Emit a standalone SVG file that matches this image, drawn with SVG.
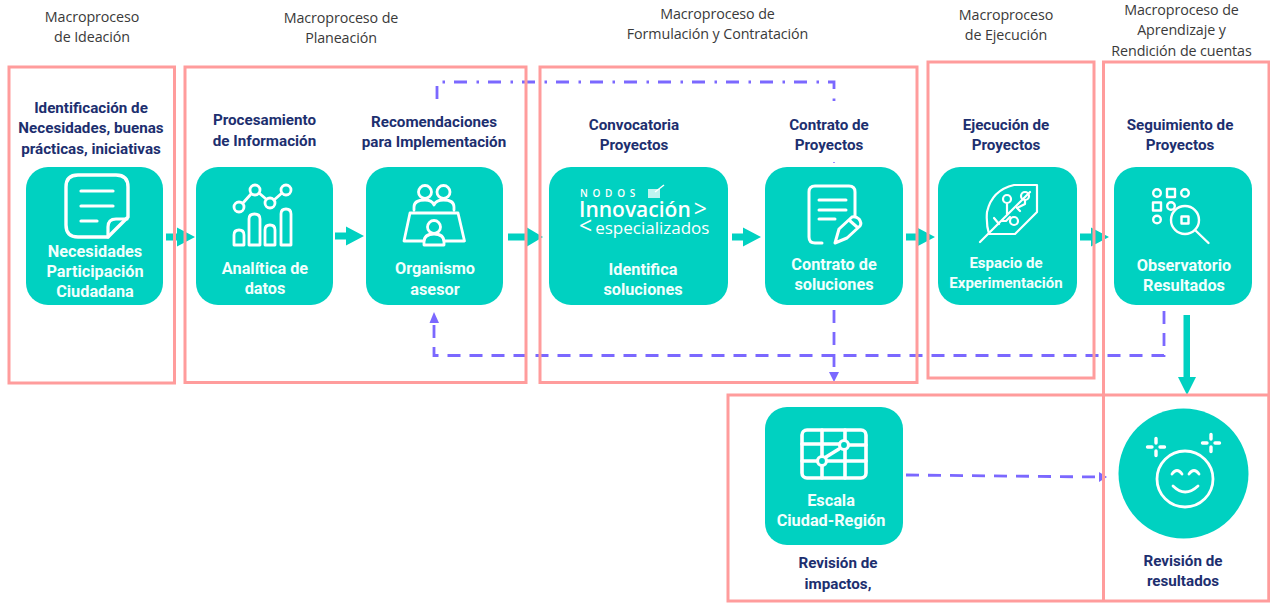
<svg xmlns="http://www.w3.org/2000/svg" width="1270" height="603" viewBox="0 0 1270 603">
<style>
.frame{fill:none;stroke:#ff9c9c;stroke-width:3}
.card{fill:#00d1c1}
.h{font-family:"Open Sans","Noto Sans",sans-serif;font-size:14.300px;letter-spacing:-.1px;fill:#3a3a3a;text-anchor:middle}
.t{font-family:Roboto,"Liberation Sans",sans-serif;font-size:15.200px;font-weight:700;fill:#1d2f6f;text-anchor:middle}
.w{font-family:Roboto,"Liberation Sans",sans-serif;font-size:16.300px;font-weight:700;fill:#f2fffd;text-anchor:middle}
.i{fill:none;stroke:#fff;stroke-width:2.800;stroke-linecap:round;stroke-linejoin:round}
.flow{fill:#00d1c1}
.dash{fill:none;stroke:#7b68ff;stroke-width:2.800;stroke-dasharray:13 9}
.dd{fill:none;stroke:#7b68ff;stroke-width:2.800;stroke-dasharray:13 9.500 2.500 9}
.logo{font-family:"Open Sans","Noto Sans",sans-serif;fill:#fff}
</style>
<defs>
<path id="fa" d="M0-3.500H11V-9.500L29 0 11 9.500V3.500H0Z"/>
</defs>
<rect width="1270" height="603" fill="#fff"/>
<g id="headers">
<text class="h" x="92" y="22">Macroproceso</text><text class="h" x="92" y="42">de Ideación</text>
<text class="h" x="341" y="23">Macroproceso de</text><text class="h" x="341" y="43">Planeación</text>
<text class="h" x="717.500" y="18.500">Macroproceso de</text><text class="h" x="717.500" y="38.500">Formulación y Contratación</text>
<text class="h" x="1006" y="20">Macroproceso</text><text class="h" x="1006" y="40">de Ejecución</text>
<text class="h" x="1181.500" y="15">Macroproceso de</text><text class="h" x="1181.500" y="35">Aprendizaje y</text><text class="h" x="1181.500" y="56">Rendición de cuentas</text>
</g>
<g id="connectors">
<use href="#fa" class="flow" x="166" y="237"/>
<use href="#fa" class="flow" x="335" y="236"/>
<path class="flow" d="M508 233.500H527V227.500L543 237 527 246.500V240.500H508Z"/>
<use href="#fa" class="flow" x="732" y="237"/>
<use href="#fa" class="flow" x="906" y="237"/>
<use href="#fa" class="flow" x="1080" y="237"/>
<path d="M1183.500 315H1190V377H1196L1187 395 1178 377H1183.500Z" class="flow"/>
<path class="dd" d="M437 99V82H834V101"/>
<path fill="none" stroke="#7b68ff" stroke-width="1.500" d="M834 162V163"/>
<path class="dash" d="M834 310V372"/>
<path d="M829 372H839L834 382Z" fill="#7b68ff"/>
<path class="dash" d="M1164 311V355.500H434V323"/>
<path d="M429.500 323H439L434 312Z" fill="#7b68ff"/>
<path class="dash" d="M906 475L1099 477"/>
<path d="M1099 472V482L1107 477Z" fill="#7b68ff"/>
</g>
<g id="frames">
<rect class="frame" x="9" y="67" width="165.500" height="316"/>
<rect class="frame" x="185" y="67" width="341" height="315.500"/>
<rect class="frame" x="540" y="67" width="377" height="315.500"/>
<rect class="frame" x="928" y="62" width="166" height="316"/>
<path class="frame" d="M1103.500 602V62H1269V602"/>
<rect class="frame" x="728" y="395" width="541" height="206"/>
</g>
<g id="node-necesidades">
<text class="t" x="91" y="113">Identificación de</text><text class="t" x="91" y="133">Necesidades, buenas</text><text class="t" x="91" y="154">prácticas, iniciativas</text>
<rect class="card" x="26" y="167" width="137" height="138" rx="22"/>
<path class="i" style="stroke-width:3.400" d="M108 237H78Q66 237 66 225V187Q66 175 78 175H116Q128 175 128 187V217L108 237"/>
<path class="i" style="stroke-width:3.200" d="M108 237V227Q108 219 116 219H127M81 191H113M81 206H113M81 221H97"/>
<text class="w" x="95" y="257">Necesidades</text><text class="w" x="95" y="277">Participación</text><text class="w" x="95" y="297">Ciudadana</text>
</g>
<g id="node-analitica">
<text class="t" x="264.500" y="125">Procesamiento</text><text class="t" x="264.500" y="146">de Información</text>
<rect class="card" x="196" y="167" width="137" height="138" rx="22"/>
<circle class="i" cx="239" cy="207" r="5"/><circle class="i" cx="255" cy="190" r="5"/><circle class="i" cx="270" cy="203" r="5"/><circle class="i" cx="286" cy="190" r="5"/>
<path class="i" d="M243 203L251 194M259 193L266 199M274 200L282 193M234 245V235Q234 230 239 230 244 230 244 235V245ZM249 245V219Q249 214 254.500 214 260 214 260 219V245ZM265 245V230Q265 225 270 225 275 225 275 230V245ZM281 245V214Q281 209 286 209 291 209 291 214V245Z"/>
<text class="w" x="265" y="274">Analítica de</text><text class="w" x="265" y="294">datos</text>
</g>
<g id="node-organismo">
<text class="t" x="434" y="127">Recomendaciones</text><text class="t" x="434" y="147">para Implementación</text>
<rect class="card" x="366" y="167" width="137" height="138" rx="22"/>
<circle class="i" cx="425" cy="192" r="6.500"/><circle class="i" cx="443.500" cy="192" r="6.500"/><circle class="i" cx="434" cy="227" r="6.500"/>
<path class="i" d="M414 210V207Q414 200 425 200 432 200 434 205 436 200 443.500 200 454 200 454 207V210M424 241H404L410 213H458L464.500 241H444M424 245V242Q424 234 434 234 444 234 444 242V245Z"/>
<text class="w" x="435" y="274">Organismo</text><text class="w" x="435" y="295">asesor</text>
</g>
<g id="node-identifica">
<text class="t" x="634" y="130">Convocatoria</text><text class="t" x="634" y="150">Proyectos</text>
<rect class="card" x="549" y="167" width="179" height="138" rx="22"/>
<text class="logo" x="580" y="197" font-size="10" font-weight="600" letter-spacing="4.700">NODOS</text>
<rect x="648" y="189" width="12" height="9" fill="#fff" opacity=".75"/><path d="M655 192L664 185" stroke="#fff" stroke-width="1.500" fill="none"/>
<text class="logo" x="579" y="216.500" font-size="21" font-weight="600">Innovación<tspan dx="3" font-weight="400" font-size="23">&gt;</tspan></text>
<text class="logo" x="579" y="233.500" font-size="17"><tspan font-size="23">&lt;</tspan><tspan dx="3">especializados</tspan></text>
<text class="w" x="643" y="275">Identifica</text><text class="w" x="643" y="295">soluciones</text>
</g>
<g id="node-contrato">
<text class="t" x="829" y="130">Contrato de</text><text class="t" x="829" y="150">Proyectos</text>
<rect class="card" x="765" y="167" width="138" height="138" rx="22"/>
<path class="i" style="stroke-width:3" d="M822 243H815Q809 243 809 237V192Q809 186 815 186H849Q855 186 855 192V216M819 200H846M819 210H846M819 219H835"/>
<path class="i" style="stroke-width:3" d="M835 243L839 229 852 217Q856 216 859 219 862 223 860 226L847 238ZM849 220L857 227"/>
<text class="w" x="834" y="270">Contrato de</text><text class="w" x="834" y="290">soluciones</text>
</g>
<g id="node-espacio">
<text class="t" x="1006" y="130">Ejecución de</text><text class="t" x="1006" y="150">Proyectos</text>
<rect class="card" x="938" y="167" width="139" height="138" rx="22"/>
<path class="i" style="stroke-width:2.200" d="M980 242L1030 192M989 234H1015L1037 212V185H1014Q992 190 987 212 986 224 989 234ZM994 218L999 224M1002 221H1006L1010 217M1007 204V214M1025 200V204L1017 208 1020 211"/>
<circle class="i" style="stroke-width:2.200" cx="1007" cy="199" r="4"/><circle class="i" style="stroke-width:2.200" cx="1025" cy="196" r="4"/><circle class="i" style="stroke-width:2.200" cx="1014" cy="221" r="4"/>
<text class="w" x="1006" y="268" style="font-size:15px">Espacio de</text><text class="w" x="1006" y="288" style="font-size:15px">Experimentación</text>
</g>
<g id="node-observatorio">
<text class="t" x="1180" y="130">Seguimiento de</text><text class="t" x="1180" y="150">Proyectos</text>
<rect class="card" x="1114" y="167" width="138" height="138" rx="22"/>
<g class="i" style="stroke-width:2.400">
<circle cx="1157" cy="193" r="3.800"/><rect x="1167" y="189" width="8" height="8"/><circle cx="1185" cy="193" r="3.800"/>
<rect x="1153" y="202.500" width="8" height="8"/><circle cx="1171" cy="206" r="3.800"/>
<circle cx="1157" cy="219.500" r="3.800"/><rect x="1181.500" y="216.500" width="7" height="7"/>
<circle cx="1185" cy="220" r="14"/><path d="M1195 230L1208.500 243"/>
</g>
<text class="w" x="1184" y="271">Observatorio</text><text class="w" x="1184" y="291">Resultados</text>
</g>
<g id="node-escala">
<rect class="card" x="765" y="407" width="138" height="138" rx="22"/>
<rect class="i" style="stroke-width:3.600" x="802" y="430" width="64" height="48" rx="5"/>
<path class="i" style="stroke-width:3.600" d="M822 430V456M822 466V478M845 430V440M845 450V478M802 444H839M849 445H866M802 461H817M827 461H866M826 457L839 449"/>
<circle class="i" style="stroke-width:3.200" cx="822" cy="461" r="4.500"/><circle class="i" style="stroke-width:3.200" cx="844" cy="445" r="4.500"/>
<text class="w" x="831" y="506">Escala</text><text class="w" x="831" y="526">Ciudad-Región</text>
</g>
<text class="t" x="838" y="568">Revisión de</text><text class="t" x="838" y="589">impactos,</text>
<g id="node-resultados">
<circle class="card" cx="1183.500" cy="473.500" r="65"/>
<circle class="i" cx="1185" cy="479" r="28"/>
<path class="i" d="M1172 474Q1177 467 1182 474M1189 474Q1194 467 1199 474M1173 486Q1185 498 1198 486"/>
<path class="i" style="stroke-width:3.400" d="M1156 438.500V443M1156 451V455.500M1147.500 447H1152M1160 447H1164.500M1211 434.500V439M1211 447V451.500M1202.500 443H1207M1215 443H1219.500"/>
<text class="t" x="1183" y="566">Revisión de</text><text class="t" x="1183" y="586">resultados</text>
</g>
</svg>
